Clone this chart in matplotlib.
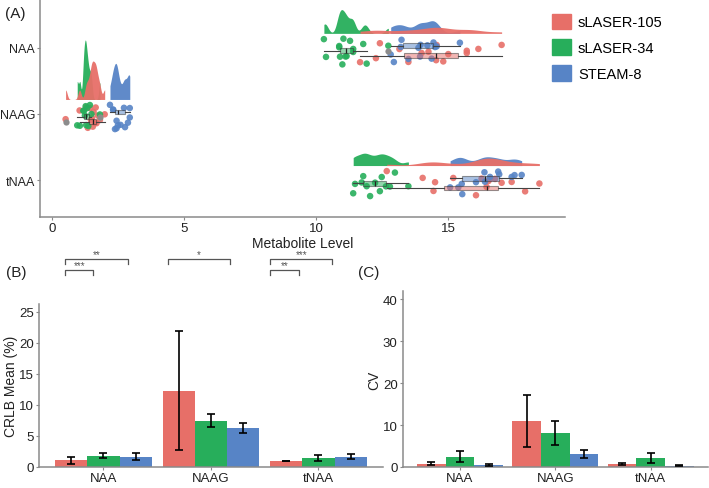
import numpy as np
import matplotlib
matplotlib.use('Agg')
import matplotlib.pyplot as plt
from matplotlib.patches import Patch

plt.rcParams['font.family'] = ['Liberation Sans', 'DejaVu Sans']

# data
groups = ['sLASER-105', 'sLASER-34', 'STEAM-8']
colors = ['#E76F68', '#27AE5B', '#5784C6']
metabolites = ['NAA', 'NAAG', 'tNAA']

# (A) metabolite levels per subject
naa_105 = [11.67, 12.27, 12.42, 13.16, 13.5, 14.0, 14.26, 14.55, 14.57, 14.82, 15.01, 15.71, 15.71, 16.15, 17.03]
naa_34 = [10.30, 10.38, 10.88, 10.88, 10.91, 11.0, 11.04, 11.12, 11.16, 11.29, 11.41, 11.41, 11.79, 11.92, 12.74]
naa_8 = [12.83, 12.95, 13.21, 13.24, 13.5, 13.88, 13.94, 13.96, 14.22, 14.38, 14.45, 14.51, 14.57, 15.45]
naag_105 = [0.52, 1.05, 1.29, 1.36, 1.44, 1.48, 1.52, 1.55, 1.58, 1.63, 1.66, 1.69, 1.75, 1.82, 2.0]
naag_34 = [0.96, 1.06, 1.19, 1.22, 1.25, 1.28, 1.30, 1.34, 1.38, 1.44, 1.50, 1.82]
naag_8 = [2.2, 2.32, 2.32, 2.39, 2.45, 2.45, 2.5, 2.6, 2.73, 2.77, 2.88, 2.95, 2.95]
tnaa_105 = [12.68, 14.04, 14.45, 14.51, 15.2, 16.06, 16.27, 16.46, 16.53, 16.6, 16.78, 17.03, 17.41, 17.92, 18.46]
tnaa_34 = [11.41, 11.48, 11.73, 11.79, 11.92, 12.05, 12.24, 12.42, 12.49, 12.65, 12.8, 12.99, 13.5]
tnaa_8 = [15.08, 15.39, 15.52, 15.54, 16.06, 16.38, 16.4, 16.59, 16.9, 16.94, 17.41, 17.52, 17.79]

levels = {'NAA': [naa_105, naa_34, naa_8],
          'NAAG': [naag_105, naag_34, naag_8],
          'tNAA': [tnaa_105, tnaa_34, tnaa_8]}

# (B) CRLB mean (%) and error
crlb_105 = [1.05, 12.3, 0.95]
crlb_34 = [1.84, 7.47, 1.42]
crlb_8 = [1.68, 6.26, 1.68]
crlb_err_105 = [0.5, 9.5, 0.05]
crlb_err_34 = [0.47, 1.1, 0.52]
crlb_err_8 = [0.5, 0.87, 0.45]

# (C) CV and error
cv_105 = [0.78, 10.95, 0.63]
cv_34 = [2.43, 8.06, 2.2]
cv_8 = [0.47, 3.05, 0.3]
cv_err_105 = [0.4, 6.3, 0.2]
cv_err_34 = [1.35, 2.8, 1.25]
cv_err_8 = [0.27, 1.0, 0.12]

# significance brackets in (B): x start, x end, level, label
sig_x1 = [0.645, 0.645, 1.6, 2.55, 2.55]
sig_x2 = [1.224, 0.907, 2.18, 3.13, 2.82]
sig_lvl = [0, 1, 0, 0, 1]
sig_lab = ['**', '***', '*', '***', '**']


def kde(vals, adjust=0.55):
    v = np.asarray(vals, float)
    n = len(v)
    iqr = np.subtract(*np.percentile(v, [75, 25]))
    bw = 0.9 * min(v.std(ddof=1), iqr / 1.34) * n ** -0.2 * adjust
    grid = np.linspace(v.min(), v.max(), 300)
    d = np.exp(-0.5 * ((grid[:, None] - v[None, :]) / bw) ** 2).sum(1) / (n * bw * np.sqrt(2 * np.pi))
    return grid, d


def style_axes(ax):
    for s in ['top', 'right']:
        ax.spines[s].set_visible(False)
    for s in ['left', 'bottom']:
        ax.spines[s].set_color('#8a8a8a')
        ax.spines[s].set_linewidth(1.1)
    ax.tick_params(colors='#8a8a8a', labelcolor='#222222', length=2.5, pad=1.2, labelsize=9.5)


fig = plt.figure(figsize=(7.09, 4.89), dpi=100)

# ---------- (A) raincloud
axA = fig.add_axes([0.0564, 0.554, 0.7405, 0.446])
rows = {'NAA': 3, 'NAAG': 2, 'tNAA': 1}
box_off = [-0.12, -0.045, 0.03]
rng = np.random.default_rng(3)

dens = {}
for m in metabolites:
    for gi in range(3):
        dens[(m, gi)] = kde(levels[m][gi])
dmax = max(d.max() for _, d in dens.values())

for m in metabolites:
    y0 = rows[m]
    for gi in [1, 2, 0]:
        g, d = dens[(m, gi)]
        axA.fill_between(g, y0 + 0.22, y0 + 0.22 + d / dmax * 0.9, color=colors[gi], lw=0, alpha=0.95, zorder=2)
    for gi in range(3):
        v = np.asarray(levels[m][gi])
        jy = y0 - 0.05 + rng.uniform(-0.2, 0.2, len(v))
        axA.scatter(v, jy, s=22, color=colors[gi], edgecolor='none', alpha=0.9, zorder=3)
    for gi in range(3):
        axA.boxplot([levels[m][gi]], positions=[y0 + box_off[gi]], widths=0.075,
                    orientation='horizontal', patch_artist=True, showcaps=False, manage_ticks=False,
                    boxprops=dict(facecolor=colors[gi], alpha=0.5, edgecolor='#333333', lw=0.8),
                    whiskerprops=dict(color='#444444', lw=0.8),
                    medianprops=dict(color='#222222', lw=0.9),
                    flierprops=dict(marker='o', markerfacecolor='#8c8c8c', markeredgecolor='none', markersize=4.5),
                    zorder=4)

axA.set_ylim(0.44, 3.74)
axA.set_xlim(-0.45, 19.43)
axA.set_yticks([rows[m] for m in metabolites])
axA.set_yticklabels(metabolites)
axA.set_xticks([0, 5, 10, 15])
axA.set_xlabel('Metabolite Level', fontsize=10, color='#222222', labelpad=1)
style_axes(axA)
axA.tick_params(axis='y', labelsize=9, pad=1)
fig.text(0.007, 0.972, '(A)', fontsize=11, color='#222222', va='center')

fig.legend(handles=[Patch(color=c) for c in colors], labels=groups, loc='upper left',
           bbox_to_anchor=(0.768, 0.985), frameon=False, fontsize=10.5,
           handlelength=1.3, handleheight=1.25, handletextpad=0.5, labelspacing=0.7, borderpad=0)

# ---------- (B) CRLB bars
x = np.arange(1, 4)
w = 0.3
axB = fig.add_axes([0.055, 0.043, 0.485, 0.333])
for k, (vals, errs) in enumerate([(crlb_105, crlb_err_105), (crlb_34, crlb_err_34), (crlb_8, crlb_err_8)]):
    axB.bar(x + (k - 1) * w, vals, w, color=colors[k], zorder=2)
    axB.errorbar(x + (k - 1) * w, vals, yerr=errs, fmt='none', ecolor='black', elinewidth=1.2, capsize=3, capthick=1.2, zorder=3)
axB.set_xlim(0.4, 3.6)
axB.set_ylim(0, 26.2)
axB.set_yticks([0, 5, 10, 15, 20, 25])
axB.set_xticks(x)
axB.set_xticklabels(metabolites)
axB.set_ylabel('CRLB Mean (%)', fontsize=10, color='#222222', labelpad=1)
style_axes(axB)
for x1, x2, lv, lab in zip(sig_x1, sig_x2, sig_lvl, sig_lab):
    yy = 33.4 - 1.75 * lv
    axB.plot([x1, x1, x2, x2], [yy - 0.8, yy, yy, yy - 0.8], color='#555555', lw=0.9, clip_on=False)
    axB.text((x1 + x2) / 2, yy + 0.05, lab, ha='center', va='bottom', fontsize=7, color='#555555', clip_on=False)
fig.text(0.009, 0.441, '(B)', fontsize=11, color='#222222', va='center')

# ---------- (C) CV bars
axC = fig.add_axes([0.568, 0.043, 0.4306, 0.36])
for k, (vals, errs) in enumerate([(cv_105, cv_err_105), (cv_34, cv_err_34), (cv_8, cv_err_8)]):
    axC.bar(x + (k - 1) * w, vals, w, color=colors[k], zorder=2)
    axC.errorbar(x + (k - 1) * w, vals, yerr=errs, fmt='none', ecolor='black', elinewidth=1.2, capsize=3, capthick=1.2, zorder=3)
axC.set_xlim(0.4, 3.6)
axC.set_ylim(0, 42)
axC.set_yticks([0, 10, 20, 30, 40])
axC.set_xticks(x)
axC.set_xticklabels(metabolites)
axC.set_ylabel('CV', fontsize=10, color='#222222', labelpad=1)
style_axes(axC)
fig.text(0.505, 0.441, '(C)', fontsize=11, color='#222222', va='center')

fig.savefig('out.png', dpi=100)
